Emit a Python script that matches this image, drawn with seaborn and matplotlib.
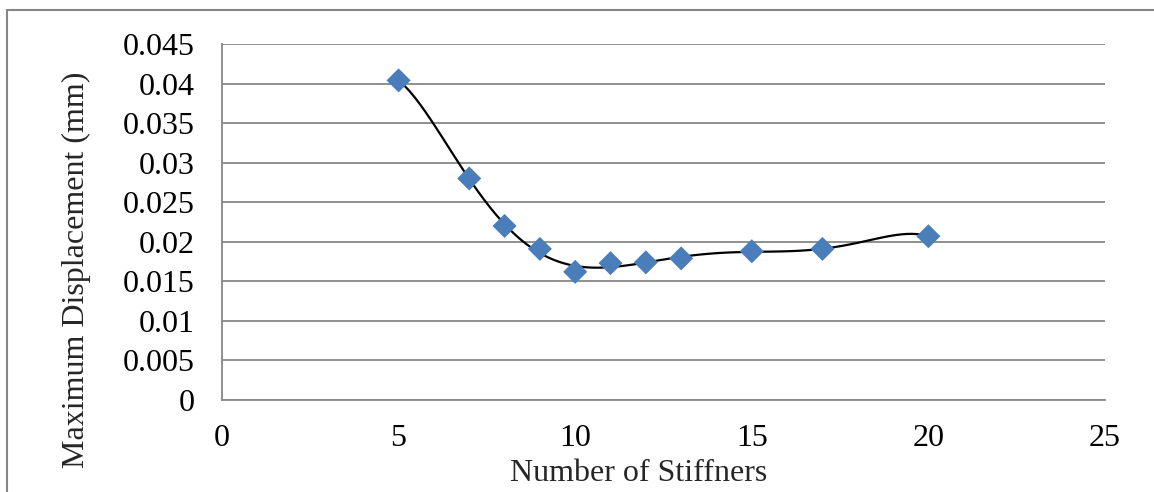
import numpy as np
import pandas as pd
import matplotlib
matplotlib.use('Agg')
import matplotlib.pyplot as plt
from matplotlib.patches import Rectangle
import seaborn as sns

# data
stiffeners = [5, 7, 8, 9, 10, 11, 12, 13, 15, 17, 20]
max_disp = [0.0404, 0.0280, 0.0220, 0.0191, 0.0162, 0.0173, 0.0174, 0.0179, 0.0188, 0.0191, 0.0207]
x_ticks = [0, 5, 10, 15, 20, 25]
y_ticks = [0, 0.005, 0.01, 0.015, 0.02, 0.025, 0.03, 0.035, 0.04, 0.045]
y_tick_labels = ['0', '0.005', '0.01', '0.015', '0.02', '0.025', '0.03', '0.035', '0.04', '0.045']

df = pd.DataFrame({'n': stiffeners, 'disp': max_disp})

sns.set_style('white')
plt.rcParams['font.family'] = ['Liberation Serif', 'DejaVu Serif']

GRID = '#878787'
W, H = 1154, 492
fig = plt.figure(figsize=(W / 100, H / 100), dpi=100)
# plot area: x 222..1105 px, y 44..400 px
ax = fig.add_axes([222 / W, 1 - 400 / H, 883 / W, 356 / H])

# trend curve (6th order polynomial) + diamond markers
sns.regplot(data=df, x='n', y='disp', order=6, ci=None, truncate=True, ax=ax,
            scatter=False, line_kws={'color': 'black', 'linewidth': 1.6, 'zorder': 3})
sns.scatterplot(data=df, x='n', y='disp', marker='D', s=150, color='#4a7ebb',
                edgecolor='none', ax=ax, zorder=4)

ax.set_xlim(0, 25)
ax.set_ylim(0, 0.045)
ax.set_xticks(x_ticks)
ax.set_yticks(y_ticks)
ax.set_yticklabels(y_tick_labels)
ax.yaxis.grid(True, color=GRID, linewidth=1.3)
ax.set_axisbelow(True)

for side in ['top', 'right']:
    ax.spines[side].set_visible(False)
for side in ['left', 'bottom']:
    ax.spines[side].set_color(GRID)
    ax.spines[side].set_linewidth(1.3)

ax.tick_params(axis='both', direction='out', length=9.5, width=1.2, color=GRID,
               labelsize=23, labelcolor='black')
ax.tick_params(axis='x', pad=8)
ax.tick_params(axis='y', pad=10)

ax.set_xlabel('Number of Stiffners', fontsize=23)
ax.set_ylabel('Maximum Displacement (mm)', fontsize=23)
ax.xaxis.set_label_coords((639 - 222) / 883, (400 - 459) / 356)
ax.yaxis.set_label_coords((91 - 222) / 883, (400 - 270) / 356)

# chart border (only top and left edges fall inside the picture)
fig.patches.append(Rectangle((7 / W, -0.1), 1.1, 1 - 10 / H + 0.1,
                             transform=fig.transFigure, fill=False,
                             edgecolor=GRID, linewidth=1.5))

fig.savefig('out.png', dpi=100)
